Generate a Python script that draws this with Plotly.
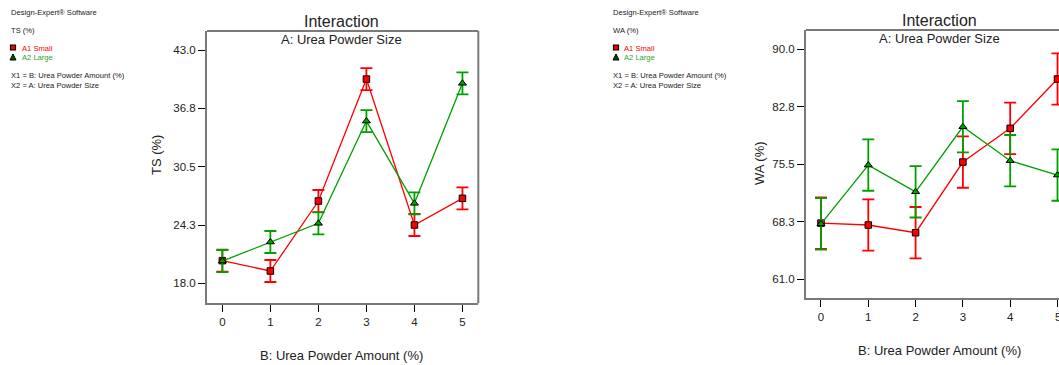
import plotly.graph_objects as go

# Urea powder amount levels (B, %)
amount = [0, 1, 2, 3, 4, 5]

# TS (%) means for each urea powder size (A)
ts_small = [20.43, 19.32, 26.82, 39.89, 24.25, 27.11]
ts_large = [20.39, 22.43, 24.43, 35.39, 26.57, 39.43]
ts_lsd = 1.18

# WA (%) means for each urea powder size (A)
wa_small = [68.05, 67.81, 66.84, 75.75, 80.0, 86.22]
wa_large = [67.95, 75.37, 72.0, 80.2, 75.92, 74.11]
wa_lsd = 3.24

ts_ticks = [18.0, 24.25, 30.5, 36.75, 43.0]
ts_ticktext = ["18.0", "24.3", "30.5", "36.8", "43.0"]
wa_ticks = [61.0, 68.25, 75.5, 82.75, 90.0]
wa_ticktext = ["61.0", "68.3", "75.5", "82.8", "90.0"]

RED = "#ff0000"
GREEN = "#00a000"
FRAME = "#7a7a7a"
FONT = "Liberation Sans, Arial, sans-serif"

W, H = 1059, 365

fig = go.Figure()


def add_series(xa, ya, yvals, err, color, symbol, size):
    fig.add_trace(go.Scatter(
        x=amount, y=yvals, xaxis=xa, yaxis=ya, mode="lines+markers",
        line=dict(color=color, width=1.3),
        marker=dict(symbol=symbol, size=size, color=color,
                    line=dict(color="black", width=1)),
        error_y=dict(type="constant", value=err, color=color,
                     thickness=1.8, width=6),
        showlegend=False, cliponaxis=False,
    ))


add_series("x", "y", ts_small, ts_lsd, RED, "square", 6.5)
add_series("x", "y", ts_large, ts_lsd, GREEN, "triangle-up", 7)
add_series("x2", "y2", wa_small, wa_lsd, RED, "square", 6.5)
add_series("x2", "y2", wa_large, wa_lsd, GREEN, "triangle-up", 7)

# panel geometry (pixels)
L1, R1, T1, B1 = 207, 478.3, 31, 303.3
L2, R2, T2, B2 = 806, 1059, 30, 298.3


def px(x):
    return x / W


def py(y):
    return 1 - y / H


axis_common = dict(
    showgrid=False, zeroline=False, showline=True, linecolor=FRAME,
    linewidth=2, ticks="outside", ticklen=7, tickwidth=1,
    tickcolor="black", tickfont=dict(family=FONT, size=11.5, color="#222"),
    mirror=False,
)

fig.update_layout(
    width=W, height=H, margin=dict(l=0, r=0, t=0, b=0),
    paper_bgcolor="white", plot_bgcolor="white",
    font=dict(family=FONT, color="#222"),
    xaxis=dict(domain=[px(L1), px(R1)], range=[-0.32, 5.33],
               tickvals=amount, anchor="y", **axis_common),
    yaxis=dict(domain=[py(B1), py(T1)], range=[15.86, 45.04],
               tickvals=ts_ticks, ticktext=ts_ticktext, anchor="x",
               **axis_common),
    xaxis2=dict(domain=[px(L2), 1.0], range=[-0.317, 5.032],
                tickvals=amount, anchor="y2", **axis_common),
    yaxis2=dict(domain=[py(B2), py(T2)], range=[58.57, 92.4],
                tickvals=wa_ticks, ticktext=wa_ticktext, anchor="x2",
                **axis_common),
)

# top and right frame edges
fig.add_shape(type="line", xref="paper", yref="paper",
              x0=px(L1), x1=px(R1), y0=py(T1), y1=py(T1),
              line=dict(color=FRAME, width=2))
fig.add_shape(type="line", xref="paper", yref="paper",
              x0=px(R1), x1=px(R1), y0=py(T1), y1=py(B1),
              line=dict(color=FRAME, width=2))
fig.add_shape(type="line", xref="paper", yref="paper",
              x0=px(L2), x1=1.0, y0=py(T2), y1=py(T2),
              line=dict(color=FRAME, width=2))


def text(x, y, s, size, color="#222", anchor="left", angle=0):
    fig.add_annotation(x=px(x), y=py(y), xref="paper", yref="paper",
                       text=s, showarrow=False, xanchor=anchor,
                       yanchor="middle", textangle=angle,
                       font=dict(family=FONT, size=size, color=color))


def panel_text(x0, title_x, label, ytitle_x, ytitle_y, xtitle_y, top):
    text(x0, 13, "Design-Expert® Software", 7.6)
    text(x0, 31, label, 7.6)
    text(x0 + 11, 48, "A1 Small", 7.6, RED)
    text(x0 + 11, 57.5, "A2 Large", 7.6, "#1fa81f")
    text(x0, 75.5, "X1 = B: Urea Powder Amount (%)", 7.6)
    text(x0, 85, "X2 = A: Urea Powder Size", 7.6)
    text(title_x, top - 9.5, "Interaction", 16, anchor="center")
    text(title_x, top + 8.5, "A: Urea Powder Size", 13, anchor="center")
    text(ytitle_x, ytitle_y, label, 13, anchor="center", angle=-90)
    text(title_x, xtitle_y, "B: Urea Powder Amount (%)", 13, anchor="center")


panel_text(9, 341.7, "TS (%)", 157, 155, 355, T1)
panel_text(611, 939, "WA (%)", 759, 163, 350, T2)

# last amount label on the right panel sits at the page edge
text(1057.6, 316.5, str(amount[-1]), 11.5, anchor="center")

# legend symbols beside the series labels
for x0 in (12.5, 615.5):
    cx = x0 + 0.5
    fig.add_shape(type="rect", xref="paper", yref="paper",
                  x0=px(cx - 2.5), x1=px(cx + 2.5),
                  y0=py(47.5 + 2.5), y1=py(47.5 - 2.5),
                  fillcolor=RED, line=dict(color="black", width=1.2))
    fig.add_shape(type="path", xref="paper", yref="paper",
                  path=(f"M {px(cx - 3)} {py(60)} L {px(cx + 3)} {py(60)} "
                        f"L {px(cx)} {py(54)} Z"),
                  fillcolor="#0a500a", line=dict(color="black", width=1))

fig.write_html("out.html")
